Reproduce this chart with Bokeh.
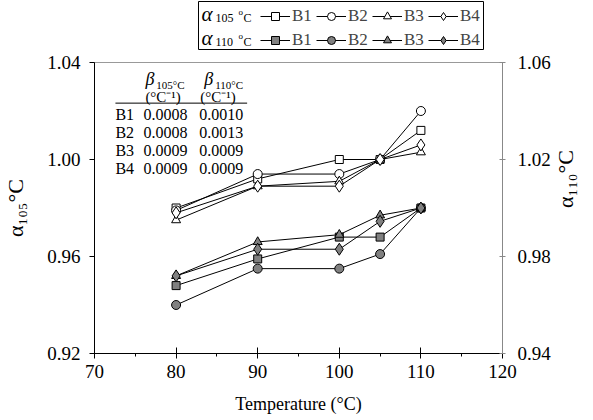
import math
from bokeh.plotting import figure
from bokeh.layouts import column
from bokeh.models import (Range1d, LinearAxis, FixedTicker, NumeralTickFormatter,
                          Legend, LegendItem, Label, BoxAnnotation)
from bokeh.embed import file_html
from bokeh.resources import INLINE

# ---------------- data ----------------
temps = [80, 90, 100, 105, 110]
series = ["B1", "B2", "B3", "B4"]
a105_B1 = [0.980, 0.992, 1.000, 1.000, 1.012]
a105_B2 = [0.979, 0.994, 0.994, 1.000, 1.020]
a105_B3 = [0.975, 0.989, 0.991, 1.000, 1.003]
a105_B4 = [0.978, 0.989, 0.989, 1.000, 1.006]
a110_B1 = [0.968, 0.979, 0.988, 0.988, 1.000]
a110_B2 = [0.960, 0.975, 0.975, 0.981, 1.000]
a110_B3 = [0.972, 0.986, 0.989, 0.997, 1.000]
a110_B4 = [0.972, 0.983, 0.983, 0.9945, 1.000]
beta105 = ["0.0008", "0.0008", "0.0009", "0.0009"]
beta110 = ["0.0010", "0.0013", "0.0009", "0.0009"]
x_ticks = [70, 80, 90, 100, 110, 120]
x_minor = [75, 85, 95, 105, 115]
y_left_ticks = [0.92, 0.96, 1.00, 1.04]
y_right_ticks = [0.94, 0.98, 1.02, 1.06]

a105 = [a105_B1, a105_B2, a105_B3, a105_B4]
a110 = [a110_B1, a110_B2, a110_B3, a110_B4]
markers = ["square", "circle", "triangle", "diamond"]
msize = {"square": 8, "circle": 9, "triangle": 9, "diamond": 12}

SERIF = "Liberation Serif"
LEG_H = 50
FRAME_L = 94

p = figure(width=593, height=420 - LEG_H, output_backend="svg", toolbar_location=None,
           x_range=Range1d(70, 120), y_range=Range1d(0.92, 1.04),
           min_border_left=FRAME_L, min_border_right=90, min_border_top=62 - LEG_H,
           min_border_bottom=67)
p.extra_y_ranges = {"r": Range1d(0.94, 1.06)}
p.grid.visible = False
p.outline_line_color = "#999999"
p.outline_line_width = 1
p.background_fill_color = "white"
p.border_fill_color = "white"

# x axis
xa = p.xaxis[0]
xa.ticker = FixedTicker(ticks=x_ticks, minor_ticks=x_minor)
xa.axis_label = "Temperature (°C)"
# y left
ya = p.yaxis[0]
ya.ticker = FixedTicker(ticks=y_left_ticks)
ya.formatter = NumeralTickFormatter(format="0.00")
ya.axis_label = "α₁₀₅°C"
# y right
yr = LinearAxis(y_range_name="r", ticker=FixedTicker(ticks=y_right_ticks),
                formatter=NumeralTickFormatter(format="0.00"),
                axis_label="α₁₁₀°C")
yr.axis_label_orientation = math.pi / 2
p.add_layout(yr, "right")

for ax in (xa, ya, yr):
    ax.major_label_text_font = SERIF
    ax.major_label_text_font_size = "19px"
    ax.major_label_text_color = "black"
    ax.axis_label_text_font = SERIF
    ax.axis_label_text_font_style = "normal"
    ax.axis_label_text_color = "black"
    ax.axis_line_color = "black"
    ax.major_tick_line_color = "black"
    ax.minor_tick_line_color = "black"
xa.axis_label_text_font_size = "18px"
ya.axis_label_text_font_size = "22px"
yr.axis_label_text_font_size = "22px"
xa.major_tick_in = 6
xa.major_tick_out = 5
xa.minor_tick_in = 0
xa.minor_tick_out = 3
xa.major_label_standoff = 6
xa.axis_label_standoff = 13
ya.major_tick_in = 0
ya.major_tick_out = 5
ya.minor_tick_line_color = None
ya.major_label_standoff = 9
ya.axis_label_standoff = 16
yr.major_tick_in = 3
yr.major_tick_out = 3
yr.minor_tick_line_color = None
yr.axis_line_color = "#888888"
yr.major_tick_line_color = "#888888"
yr.major_label_standoff = 12
yr.axis_label_standoff = 12

for m, ys105, ys110 in zip(markers, a105, a110):
    p.line(temps, ys105, line_color="black", line_width=1)
    p.scatter(temps, ys105, marker=m, size=msize[m], fill_color="white",
              line_color="black", line_width=1)
    p.line(temps, ys110, line_color="black", line_width=1, y_range_name="r")
    p.scatter(temps, ys110, marker=m, size=msize[m], fill_color="#808080",
              line_color="black", line_width=1, y_range_name="r")

# ---------------- beta table ----------------
def dx(px):
    return 70 + (px - 94) * 50 / 409.0


def dy(py):
    return 1.04 - (py - 62.5) * 0.12 / 290.0


def lab(text, px, py, size, style="normal", align="left"):
    p.add_layout(Label(x=dx(px), y=dy(py), text=text, text_font=SERIF,
                       text_font_size=size, text_font_style=style,
                       text_align=align, text_baseline="middle", text_color="black"))


lab("β", 145, 79, "18px", "italic")
lab("105°C", 156, 85, "11px")
lab("β", 204, 79, "18px", "italic")
lab("110°C", 215, 85, "11px")
lab("(°C⁻¹)", 145, 97, "15px")
lab("(°C⁻¹)", 200, 97, "15px")
p.segment(x0=[dx(115)], y0=[dy(103)], x1=[dx(247)], y1=[dy(103)],
          line_color="black", line_width=1)
row_y = [114, 132, 150, 168]
for name, b1, b2, ry in zip(series, beta105, beta110, row_y):
    lab(name, 115, ry, "16px")
    lab(b1, 143, ry, "16px")
    lab(b2, 199, ry, "16px")

# ---------------- legend (separate strip on top) ----------------
lf = figure(width=593, height=LEG_H, output_backend="svg", toolbar_location=None,
            x_range=Range1d(0, 1), y_range=Range1d(0, 1), min_border=0,
            x_axis_location=None, y_axis_location=None)
lf.grid.visible = False
lf.outline_line_color = None
lf.background_fill_color = "white"
lf.border_fill_color = "white"

# legend-key renderers: same series, outside this strip's ranges (only keys show)
items_105, items_110 = [], []
for name, m, ys105, ys110 in zip(series, markers, a105, a110):
    l1 = lf.line(temps, ys105, line_color="black", line_width=1)
    s1 = lf.scatter(temps, ys105, marker=m, size=msize[m], fill_color="white",
                    line_color="black", line_width=1)
    items_105.append(LegendItem(label=name, renderers=[l1, s1]))
    l2 = lf.line(temps, ys110, line_color="black", line_width=1)
    s2 = lf.scatter(temps, ys110, marker=m, size=msize[m], fill_color="#808080",
                    line_color="black", line_width=1)
    items_110.append(LegendItem(label=name, renderers=[l2, s2]))
dummy = lf.scatter(temps, a105_B1, size=1, fill_alpha=0, line_alpha=0)
items = ([LegendItem(label=" ", renderers=[dummy])] + items_105 +
         [LegendItem(label=" ", renderers=[dummy])] + items_110)
legend = Legend(items=items, orientation="horizontal", nrows=2,
                location=(204 - FRAME_L, 0), border_line_color=None,
                background_fill_alpha=0, padding=3, spacing=4,
                glyph_width=30, glyph_height=20, label_height=20, label_standoff=2,
                label_text_font=SERIF, label_text_font_size="17px", margin=0)
lf.add_layout(legend)
lf.add_layout(BoxAnnotation(left=198 - FRAME_L, right=483 - FRAME_L, bottom=1,
                            top=LEG_H - 1,
                            left_units="screen", right_units="screen",
                            bottom_units="screen", top_units="screen",
                            fill_alpha=0, line_color="black", line_width=1,
                            line_alpha=1))


def tlab(text, px, py, size, style="normal"):
    lf.add_layout(Label(x=px - FRAME_L, y=LEG_H - py, x_units="screen",
                        y_units="screen", text=text, text_font=SERIF,
                        text_font_size=size, text_font_style=style,
                        text_align="left", text_baseline="middle",
                        text_color="black"))


for sub, cy in (("105", 13), ("110", 37)):
    tlab("α", 201, cy, "21px", "italic")
    tlab(sub, 215, cy + 4, "12px")
    tlab("o", 238, cy - 2, "9px")
    tlab("C", 243, cy + 4, "12px")

open("out.html", "w").write(file_html(column(lf, p, spacing=0), INLINE))
